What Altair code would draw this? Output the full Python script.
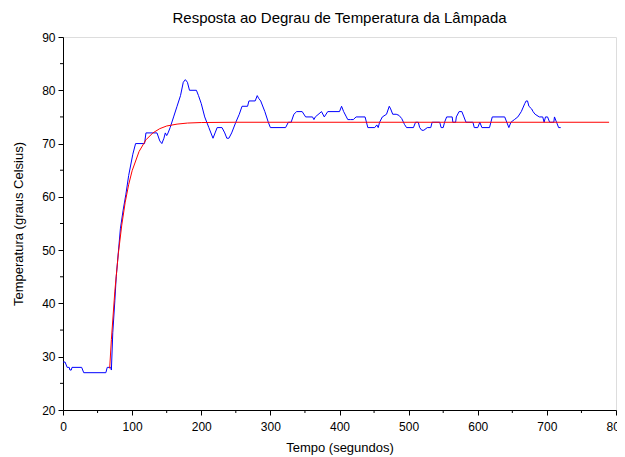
import altair as alt
import pandas as pd

# Measured temperature (blue)
blue_t = [0, 3, 6, 9, 10, 12, 13, 27, 30, 62, 64, 69, 70, 72, 75, 77, 80, 83, 87, 91,
          95, 101, 105, 118, 120, 136, 140, 143, 146, 148, 150, 152, 155, 160, 165, 170, 174, 177, 180, 183,
          193, 196, 200, 205, 211, 217, 220, 223, 230, 234, 237, 240, 244, 250, 255, 259, 267, 269, 278, 281,
          283, 286, 292, 297, 300, 322, 326, 330, 334, 338, 346, 351, 361, 363, 365, 374, 378, 383, 400, 403,
          406, 410, 412, 416, 420, 424, 437, 441, 451, 454, 456, 458, 462, 468, 472, 474, 477, 482, 486, 490,
          494, 497, 507, 510, 514, 516, 519, 522, 527, 532, 534, 545, 547, 550, 552, 555, 563, 564, 568, 569,
          573, 577, 580, 583, 593, 595, 600, 603, 606, 617, 619, 621, 639, 642, 645, 648, 653, 658, 663, 668,
          670, 672, 674, 678, 680, 683, 689, 694, 696, 698, 701, 704, 710, 711, 714, 717, 720]
blue_v = [29, 29, 28, 28, 27.5, 27.5, 28, 28, 27, 27, 28, 28, 27.5, 34.5, 40.5, 45, 49.5, 54, 57.5, 60.5,
          64, 68, 70, 70, 72, 72, 70.5, 70, 71, 72, 71.5, 72, 73, 75, 77, 79, 81.5, 82, 81.5, 80,
          80, 79, 77.5, 75, 73, 71, 72, 73, 73, 72, 71, 71, 72, 74, 75.5, 77, 77, 78, 78, 79,
          78.5, 78, 76, 74, 73, 73, 74, 74, 75.5, 76, 76, 75, 75, 74.5, 75, 76, 75, 76, 76, 77,
          76, 75, 74.5, 74.5, 74.5, 75, 75, 73, 73, 73.5, 73, 74, 75, 75.5, 77, 76.5, 75.5, 75.5, 75.3, 74.7,
          73.6, 73, 73, 74, 74, 73, 72.5, 72.5, 73, 73, 74, 74, 73, 73, 74, 75, 75, 74, 74, 75,
          76, 76, 75, 74, 74, 73, 73, 74, 73, 73, 74, 75, 75, 74, 73, 74, 74.5, 75, 76, 77.5,
          78, 78, 77, 76.5, 76, 75.5, 75, 75, 74, 75, 75, 74, 74, 75, 74, 73, 73]

# Model response (red)
red_t = [67.5, 70, 75, 80, 85, 90, 95, 100, 110, 120, 130, 140, 150, 165, 180, 200, 250, 790]
red_v = [27.8, 33.2, 42.3, 49.3, 54.7, 59.0, 62.3, 64.9, 68.5, 70.7, 72.0, 72.8, 73.3, 73.65, 73.85, 73.95, 74.0, 74.0]

x_major = [0, 100, 200, 300, 400, 500, 600, 700, 800]
x_minor = [50, 150, 250, 350, 450, 550, 650, 750]
y_major = [20, 30, 40, 50, 60, 70, 80, 90]
y_minor = [25, 35, 45, 55, 65, 75, 85]

FONT = "Liberation Sans"
W, H = 553, 373

blue_df = pd.DataFrame({"t": blue_t, "v": blue_v})
red_df = pd.DataFrame({"t": red_t, "v": red_v})

xs = alt.Scale(domain=[0, 800], nice=False, zero=False)
ys = alt.Scale(domain=[20, 90], nice=False, zero=False)

blue = alt.Chart(blue_df).mark_line(color="#0000ff", strokeWidth=1).encode(
    x=alt.X("t:Q", scale=xs, axis=alt.Axis(
        title="Tempo (segundos)", values=x_major, format="d", grid=False,
        tickSize=5, labelPadding=6, titlePadding=9,
        labelFont=FONT, titleFont=FONT, labelFontSize=12, titleFontSize=13,
        titleFontWeight="normal", labelColor="black", titleColor="black",
        domainColor="black", tickColor="black", labelFlush=False)),
    y=alt.Y("v:Q", scale=ys, axis=alt.Axis(
        title="Temperatura (graus Celsius)", values=y_major, format="d", grid=False,
        tickSize=5, labelPadding=3, titlePadding=16,
        labelFont=FONT, titleFont=FONT, labelFontSize=12, titleFontSize=13,
        titleFontWeight="normal", labelColor="black", titleColor="black",
        domainColor="black", tickColor="black", labelFlush=False)),
    order="t:Q",
)

red = alt.Chart(red_df).mark_line(color="#ff0000", strokeWidth=1).encode(
    x=alt.X("t:Q", scale=xs),
    y=alt.Y("v:Q", scale=ys),
    order="t:Q",
)

xminor = alt.Chart(pd.DataFrame({"t": x_minor})).mark_rule(color="black", strokeWidth=1).encode(
    x=alt.X("t:Q", scale=xs),
    y=alt.value(H),
    y2=alt.value(H + 3),
)

yminor = alt.Chart(pd.DataFrame({"v": y_minor})).mark_rule(color="black", strokeWidth=1).encode(
    y=alt.Y("v:Q", scale=ys),
    x=alt.value(0),
    x2=alt.value(-3),
)

chart = alt.layer(blue, red, xminor, yminor).properties(
    width=W,
    height=H,
    title=alt.TitleParams(
        "Resposta ao Degrau de Temperatura da Lâmpada",
        font=FONT, fontSize=15, fontWeight="normal", color="black",
        anchor="middle", offset=5),
    autosize=alt.AutoSizeParams(type="none"),
    padding={"left": 55, "top": 29, "right": 1, "bottom": 47},
).configure_view(
    stroke="black", strokeWidth=1
).configure(background="white")

chart.save("out.html", embed_options={"renderer": "svg", "actions": False})
